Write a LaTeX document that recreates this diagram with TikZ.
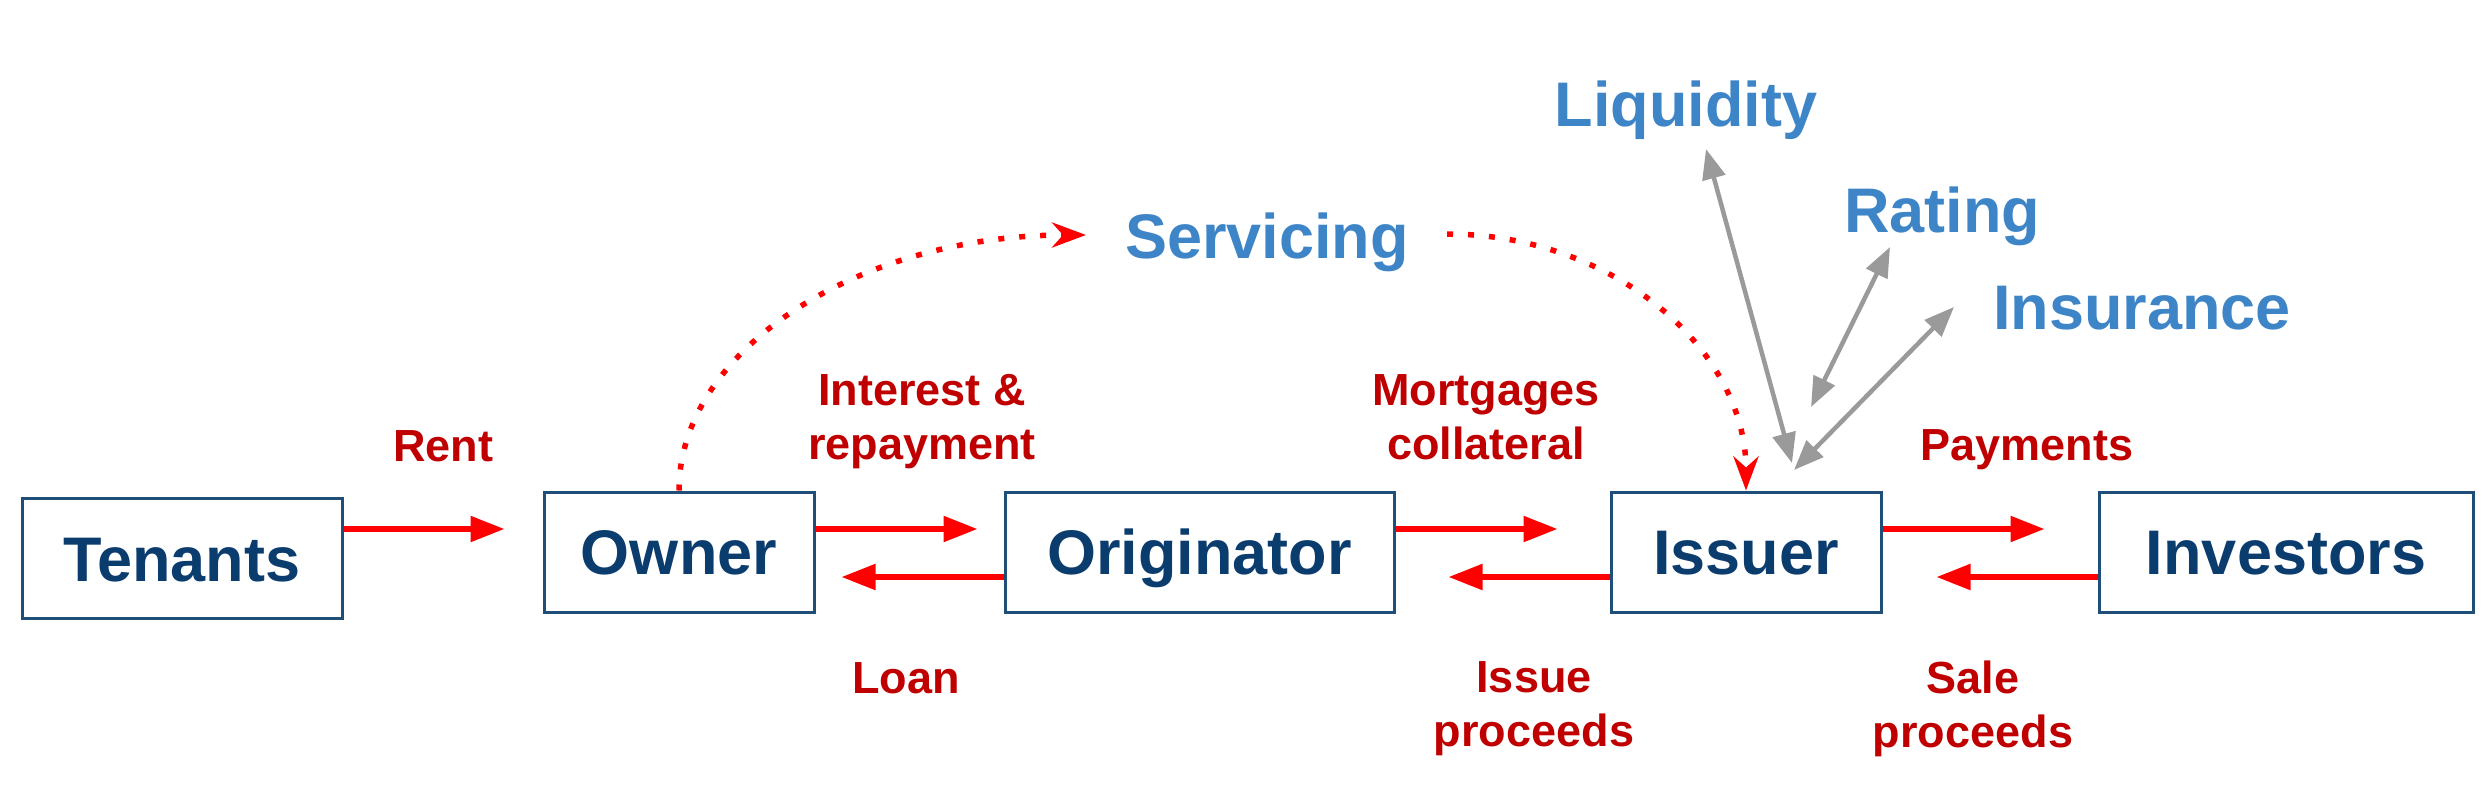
\documentclass[tikz,border=0pt]{standalone}
\usepackage{fontspec}
\setmainfont{Liberation Sans}
\usetikzlibrary{arrows.meta}

\definecolor{boxline}{HTML}{1F4E79}
\definecolor{boxtext}{HTML}{0B3C6E}
\definecolor{flowred}{HTML}{FF0000}
\definecolor{labelred}{HTML}{C00000}
\definecolor{rolblue}{HTML}{3D85C6}
\definecolor{linkgray}{HTML}{9A9A9A}

\begin{document}
\begin{tikzpicture}[x=1pt,y=-1pt,
    party/.style={draw=boxline, line width=3pt, text=boxtext, inner sep=0pt,
        font=\fontsize{63}{70}\selectfont\bfseries, minimum height=120pt,
        text height=45pt, text depth=0pt},
    flowlabel/.style={text=labelred, inner sep=0pt, align=center,
        font=\fontsize{45}{54}\selectfont\bfseries},
    role/.style={text=rolblue, inner sep=0pt, anchor=base,
        font=\fontsize{63}{70}\selectfont\bfseries},
    flow/.style={draw=flowred, line width=5.5pt, -{Triangle[length=34pt,width=25pt]}},
    link/.style={draw=linkgray, line width=4.5pt,
        {Triangle[length=30pt,width=23pt]}-{Triangle[length=30pt,width=23pt]}},
    servicing/.style={draw=flowred, line width=5.5pt, dash pattern=on 6pt off 15pt,
        -{Stealth[length=34pt,width=25pt,inset=11pt]}}]
    \useasboundingbox (0,0) rectangle (2485,801);

    % parties
    \node[party, minimum width=320pt] (Tenants) at (182,558.5) {Tenants};
    \node[party, minimum width=270pt] (Owner) at (679,552) {Owner};
    \node[party, minimum width=389pt] (Originator) at (1199.5,552) {Originator};
    \node[party, minimum width=270pt] (Issuer) at (1746,552) {Issuer};
    \node[party, minimum width=374pt] (Investors) at (2286,552) {Investors};

    % cash flows
    \draw[flow, shorten >=38pt] ([yshift=29.5pt]Tenants.east) -- ([yshift=23pt]Owner.west); % rent
    \draw[flow, shorten >=26pt] ([yshift=23pt]Owner.east) -- ([yshift=23pt]Originator.west);
    \draw[flow, shorten >=26pt] ([yshift=-25pt]Originator.west) -- ([yshift=-25pt]Owner.east); % loan
    \draw[flow, shorten >=52pt] ([yshift=23pt]Originator.east) -- ([yshift=23pt]Issuer.west);
    \draw[flow, shorten >=53pt] ([yshift=-25pt]Issuer.west) -- ([yshift=-25pt]Originator.east);
    \draw[flow, shorten >=53pt] ([yshift=23pt]Issuer.east) -- ([yshift=23pt]Investors.west);
    \draw[flow, shorten >=54pt] ([yshift=-25pt]Investors.west) -- ([yshift=-25pt]Issuer.east);

    \node[flowlabel, anchor=base] (rent) at (443,461) {Rent};
    \node[flowlabel, anchor=north] (interest) at (922,374) {Interest \&\\repayment};
    \node[flowlabel, anchor=north] (mortgages) at (1486,374) {Mortgages\\collateral};
    \node[flowlabel, anchor=base] (payments) at (2027,460) {Payments};
    \node[flowlabel, anchor=base] (loan) at (906,693) {Loan};
    \node[flowlabel, anchor=north] (issue) at (1534,661) {Issue\\proceeds};
    \node[flowlabel, anchor=north] (sale) at (1973,661) {Sale\\proceeds};

    % third parties
    \node[role] (Servicing) at (1267,258) {Servicing};
    \node[role] (Liquidity) at (1686,126) {Liquidity};
    \node[role] (Rating) at (1942,232) {Rating};
    \node[role] (Insurance) at (2142,329) {Insurance};

    \coordinate (srv-in) at (1086,235);
    \coordinate (srv-out) at (1447,234);
    \coordinate (liq-top) at (1706,149);
    \coordinate (liq-bot) at (1792,463);
    \coordinate (rat-top) at (1890,247);
    \coordinate (rat-bot) at (1811,407);
    \coordinate (ins-top) at (1954,307);
    \coordinate (ins-bot) at (1794,470);

    \draw[servicing] (Owner.north) .. controls +(0,-142) and +(-225,0) .. (srv-in);
    \draw[servicing] (srv-out) .. controls +(165,0) and +(0,-142) .. (Issuer.north);

    \draw[link] (liq-top) -- (liq-bot);
    \draw[link] (rat-top) -- (rat-bot);
    \draw[link] (ins-top) -- (ins-bot);
\end{tikzpicture}
\end{document}
